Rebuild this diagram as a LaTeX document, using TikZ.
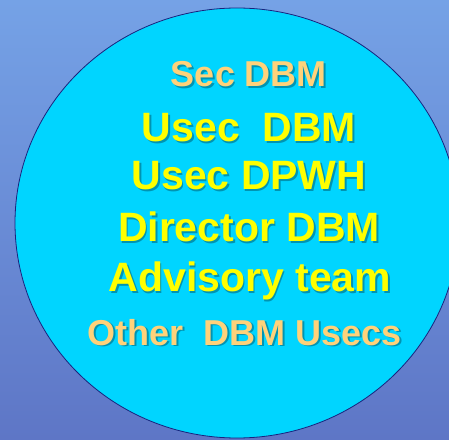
\documentclass[tikz,border=0pt]{standalone}
\usepackage{fontspec}
\setmainfont{Liberation Sans}
\definecolor{bgtop}{HTML}{75A2E6}
\definecolor{bgbot}{HTML}{5E76C6}
\definecolor{disc}{HTML}{00D5FF}
\definecolor{rim}{HTML}{1A237E}
\definecolor{peach}{HTML}{FFD27A}
\definecolor{yel}{HTML}{FFFF00}
\tikzset{
  big/.style={font=\bfseries\fontsize{41pt}{41pt}\selectfont, anchor=base, inner sep=0pt},
  mid/.style={font=\bfseries\fontsize{36pt}{36pt}\selectfont, anchor=base, inner sep=0pt},
  shade/.style={text=black, text opacity=0.3},
}
\begin{document}
\begin{tikzpicture}[x=1pt,y=1pt]
\useasboundingbox (0,0) rectangle (449,439);
\shade[top color=bgtop, bottom color=bgbot] (0,0) rectangle (449,439);
\begin{scope}
\clip (0,0) rectangle (449,439);
\draw[rim, fill=disc, line width=0.8pt] (237,216) ellipse [x radius=222, y radius=215];
\end{scope}
% shadows
\node[mid, shade] (s1) at (250.5,350.5) {Sec DBM};
\node[big, shade] (s2) at (250.5,295.5) {Usec\ \ DBM};
\node[big, shade] (s3) at (250.5,247.5) {Usec DPWH};
\node[big, shade] (s4) at (250.5,195.5) {Director DBM};
\node[big, shade] (s5) at (251.5,145.5) {Advisory team};
\node[mid, shade] (s6) at (246.5,92.5) {Other\ \ DBM Usecs};
% texts
\node[mid, text=peach] (t1) at (249,352) {Sec DBM};
\node[big, text=yel] (t2) at (249,297) {Usec\ \ DBM};
\node[big, text=yel] (t3) at (249,249) {Usec DPWH};
\node[big, text=yel] (t4) at (249,197) {Director DBM};
\node[big, text=yel] (t5) at (250,147) {Advisory team};
\node[mid, text=peach] (t6) at (245,94) {Other\ \ DBM Usecs};
\end{tikzpicture}
\end{document}
